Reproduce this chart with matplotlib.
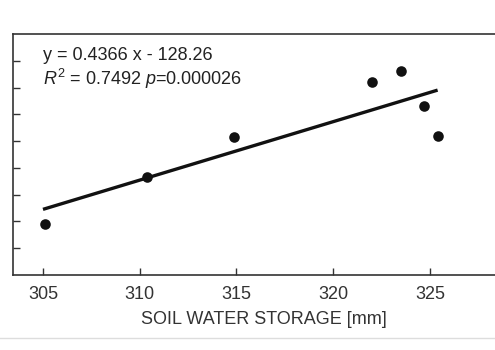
import matplotlib
matplotlib.use("Agg")
import matplotlib.pyplot as plt
from matplotlib.lines import Line2D
import numpy as np

plt.rcParams['font.family'] = ['Liberation Sans', 'DejaVu Sans']
plt.rcParams['mathtext.fontset'] = 'custom'
plt.rcParams['mathtext.rm'] = 'Liberation Sans'
plt.rcParams['mathtext.it'] = 'Liberation Sans:italic'

# Soil water storage [mm] and the response variable
storage = [305.1, 310.4, 314.9, 322.0, 323.5, 324.7, 325.4]
response = [3.8, 7.3, 10.3, 14.4, 15.2, 12.6, 10.4]

# Linear fit reported on the chart
slope = 0.4366
intercept = -128.26
fit_x = [305.0, 325.4]

x_ticks = [305, 310, 315, 320, 325]
y_ticks = [2, 4, 6, 8, 10, 12, 14, 16]

fig = plt.figure(figsize=(4.95, 3.5), dpi=100)
ax = fig.add_axes([13 / 495, 75 / 350, 502 / 495, 241 / 350])

ink = '#111111'
ax.scatter(storage, response, s=58, color=ink, zorder=3, linewidths=0)
fx = np.array(fit_x)
ax.plot(fx, slope * fx + intercept, color=ink, lw=2.4, solid_capstyle='butt', zorder=2)

ax.set_xlim(303.45, 329.4)
ax.set_ylim(0, 18)
ax.set_xticks(x_ticks)
ax.set_yticks(y_ticks)
ax.set_yticklabels([])
ax.tick_params(direction='in', length=5, width=1.0, color='#333333',
               labelsize=13, labelcolor='#333333', pad=8)
for sp in ax.spines.values():
    sp.set_color('#333333')
    sp.set_linewidth(1.2)

ax.set_xlabel('SOIL WATER STORAGE [mm]', fontsize=13, color='#333333', labelpad=6)

fig.text(43 / 495, 1 - 56 / 350, 'y = 0.4366 x - 128.26', fontsize=13,
         color='#222222', va='center', ha='left')
fig.text(43 / 495, 1 - 79 / 350, r'$R^2$ = 0.7492 $p$=0.000026', fontsize=13,
         color='#222222', va='center', ha='left')

# thin rule below the panel
fig.add_artist(Line2D([0, 1], [1 - 338 / 350, 1 - 338 / 350], color='#dddddd',
                      lw=1, transform=fig.transFigure))

fig.savefig('out.png', dpi=100, facecolor='white')
